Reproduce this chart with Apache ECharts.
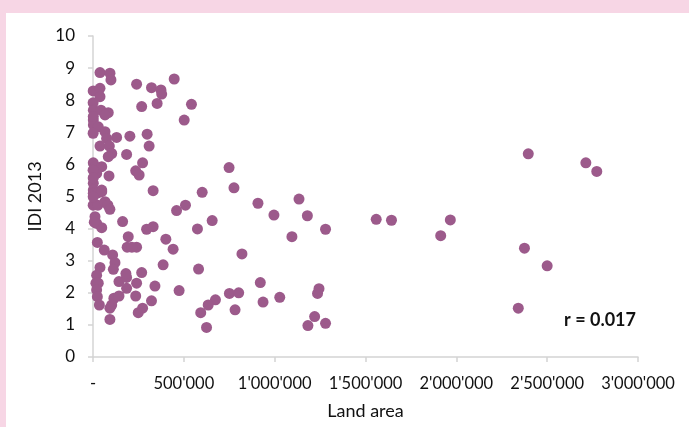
<!DOCTYPE html>
<html>
<head>
<meta charset="utf-8">
<script src="https://cdn.jsdelivr.net/npm/echarts@6/dist/echarts.min.js"></script>
<style>
  html, body { margin: 0; padding: 0; background: #fff; }
  #chart { position: absolute; left: 0; top: 0; width: 689px; height: 427px; }
  .band { position: absolute; background: #f7d6e5; }
  .band.top { left: 0; top: 0; width: 689px; height: 13px; }
  .band.left { left: 0; top: 0; width: 6px; height: 427px; }
</style>
</head>
<body>
<div id="chart"></div>
<div class="band top"></div>
<div class="band left"></div>
<script>
// land area (km2) vs IDI 2013, one entry per country
const landArea = [
  38500, 93400, 98900, 1000, 38500, 38500, 700, 2000, 44000, 84000,
  66000, 1600, 2000, 29000, 700, 66000, 75000, 130000, 38500, 90000,
  103000, 84000, 1600, 11000, 48000, 20000, 88000, 1600, 1600, 48000,
  240000, 322000, 374000, 378000, 447000, 542000, 268000, 353000, 502000, 203000,
  298000, 309000, 185000, 273000, 235000, 254000, 331000, 601000, 749000, 776000,
  908000, 1134000, 996000, 1180000, 656000, 575000, 1095000, 1280000, 1559000, 1643000,
  820000, 581000, 921000, 751000, 802000, 674000, 634000, 593000, 625000, 782000,
  936000, 1028000, 1244000, 1236000, 1220000, 1183000, 1280000, 2396000, 2713000, 2773000,
  1967000, 1914000, 2375000, 2500000, 2341000, 1600, 27000, 48000, 1000, 27000,
  66000, 82000, 93000, 11000, 20000, 48000, 7000, 163000, 24000, 62000,
  108000, 121000, 112000, 38500, 20000, 16000, 29000, 20000, 24000, 35000,
  115000, 103000, 93000, 93000, 143000, 143000, 185000, 181000, 185000, 235000,
  240000, 249000, 273000, 268000, 322000, 341000, 386000, 194000, 188000, 240000,
  295000, 331000, 401000, 441000, 460000, 509000, 474000, 214000, 1600, 500,
  1000, 1000
];
const idi2013 = [
  8.86, 8.84, 8.63, 8.29, 8.37, 8.11, 7.92, 7.69, 7.69, 7.61,
  7.54, 7.38, 7.23, 7.17, 6.97, 7.02, 6.81, 6.84, 6.57, 6.57,
  6.34, 6.24, 6.05, 5.93, 5.93, 5.72, 5.64, 5.41, 5.20, 5.20,
  8.50, 8.39, 8.32, 8.19, 8.66, 7.87, 7.80, 7.90, 7.38, 6.88,
  6.94, 6.57, 6.31, 6.05, 5.80, 5.67, 5.18, 5.13, 5.90, 5.27,
  4.79, 4.92, 4.42, 4.40, 4.25, 3.99, 3.75, 3.98, 4.29, 4.26,
  3.21, 2.74, 2.32, 1.98, 2.00, 1.78, 1.62, 1.38, 0.92, 1.47,
  1.71, 1.86, 2.13, 1.98, 1.26, 0.98, 1.05, 6.33, 6.05, 5.78,
  4.27, 3.78, 3.39, 2.84, 1.52, 5.10, 5.11, 5.15, 4.73, 4.73,
  4.84, 4.73, 4.60, 4.37, 4.16, 4.03, 4.20, 4.22, 3.57, 3.33,
  3.18, 2.94, 2.73, 2.79, 2.55, 2.30, 2.30, 2.09, 1.88, 1.62,
  1.83, 1.62, 1.52, 1.17, 1.90, 2.35, 2.48, 2.60, 2.14, 1.90,
  2.30, 1.38, 1.52, 2.63, 1.75, 2.21, 2.87, 3.75, 3.42, 3.42,
  3.98, 4.06, 3.67, 3.36, 4.56, 4.73, 2.07, 3.42, 7.49, 5.82,
  5.58, 4.99
];
const xTicks = [0, 500000, 1000000, 1500000, 2000000, 2500000, 3000000];
const yTicks = [0, 1, 2, 3, 4, 5, 6, 7, 8, 9, 10];
const rLabel = 'r = 0.017';

const points = landArea.map((x, i) => [x, idi2013[i]]);

const fmtThousands = v => v === 0 ? '-' : String(v).replace(/\B(?=(\d{3})+(?!\d))/g, "'");

const chart = echarts.init(document.getElementById('chart'), null, { renderer: 'canvas' });

const option = {
  backgroundColor: '#fff',
  animation: false,
  textStyle: { fontFamily: 'Lato' },
  grid: { left: 93, right: 51, top: 36, bottom: 70 },
  xAxis: {
    type: 'value',
    min: xTicks[0],
    max: xTicks[xTicks.length - 1],
    interval: 500000,
    name: 'Land area',
    nameLocation: 'middle',
    nameGap: 45,
    nameTextStyle: { fontSize: 18, color: '#111' },
    axisLine: { show: true, lineStyle: { color: '#d4d4d4', width: 1.5 } },
    axisTick: { show: true, length: 5, lineStyle: { color: '#d4d4d4', width: 1.5 } },
    axisLabel: { fontSize: 16.5, color: '#111', margin: 18, formatter: fmtThousands },
    splitLine: { show: false }
  },
  yAxis: {
    type: 'value',
    min: yTicks[0],
    max: yTicks[yTicks.length - 1],
    interval: 1,
    name: 'IDI 2013',
    nameLocation: 'middle',
    nameGap: 46,
    nameTextStyle: { fontSize: 18, color: '#111' },
    axisLine: { show: true, lineStyle: { color: '#d4d4d4', width: 1.5 } },
    axisTick: { show: true, length: 5, lineStyle: { color: '#d4d4d4', width: 1.5 } },
    axisLabel: { fontSize: 17, color: '#111', margin: 18 },
    splitLine: { show: false }
  },
  graphic: [{
    type: 'text',
    right: 53,
    top: 311,
    style: { text: rLabel, font: 'bold 18px Lato', fill: '#111' }
  }],
  series: [{
    type: 'scatter',
    data: points,
    symbol: 'circle',
    symbolSize: 11,
    itemStyle: { color: '#9c5a8b', opacity: 1 }
  }]
};

chart.setOption(option);
</script>
</body>
</html>
